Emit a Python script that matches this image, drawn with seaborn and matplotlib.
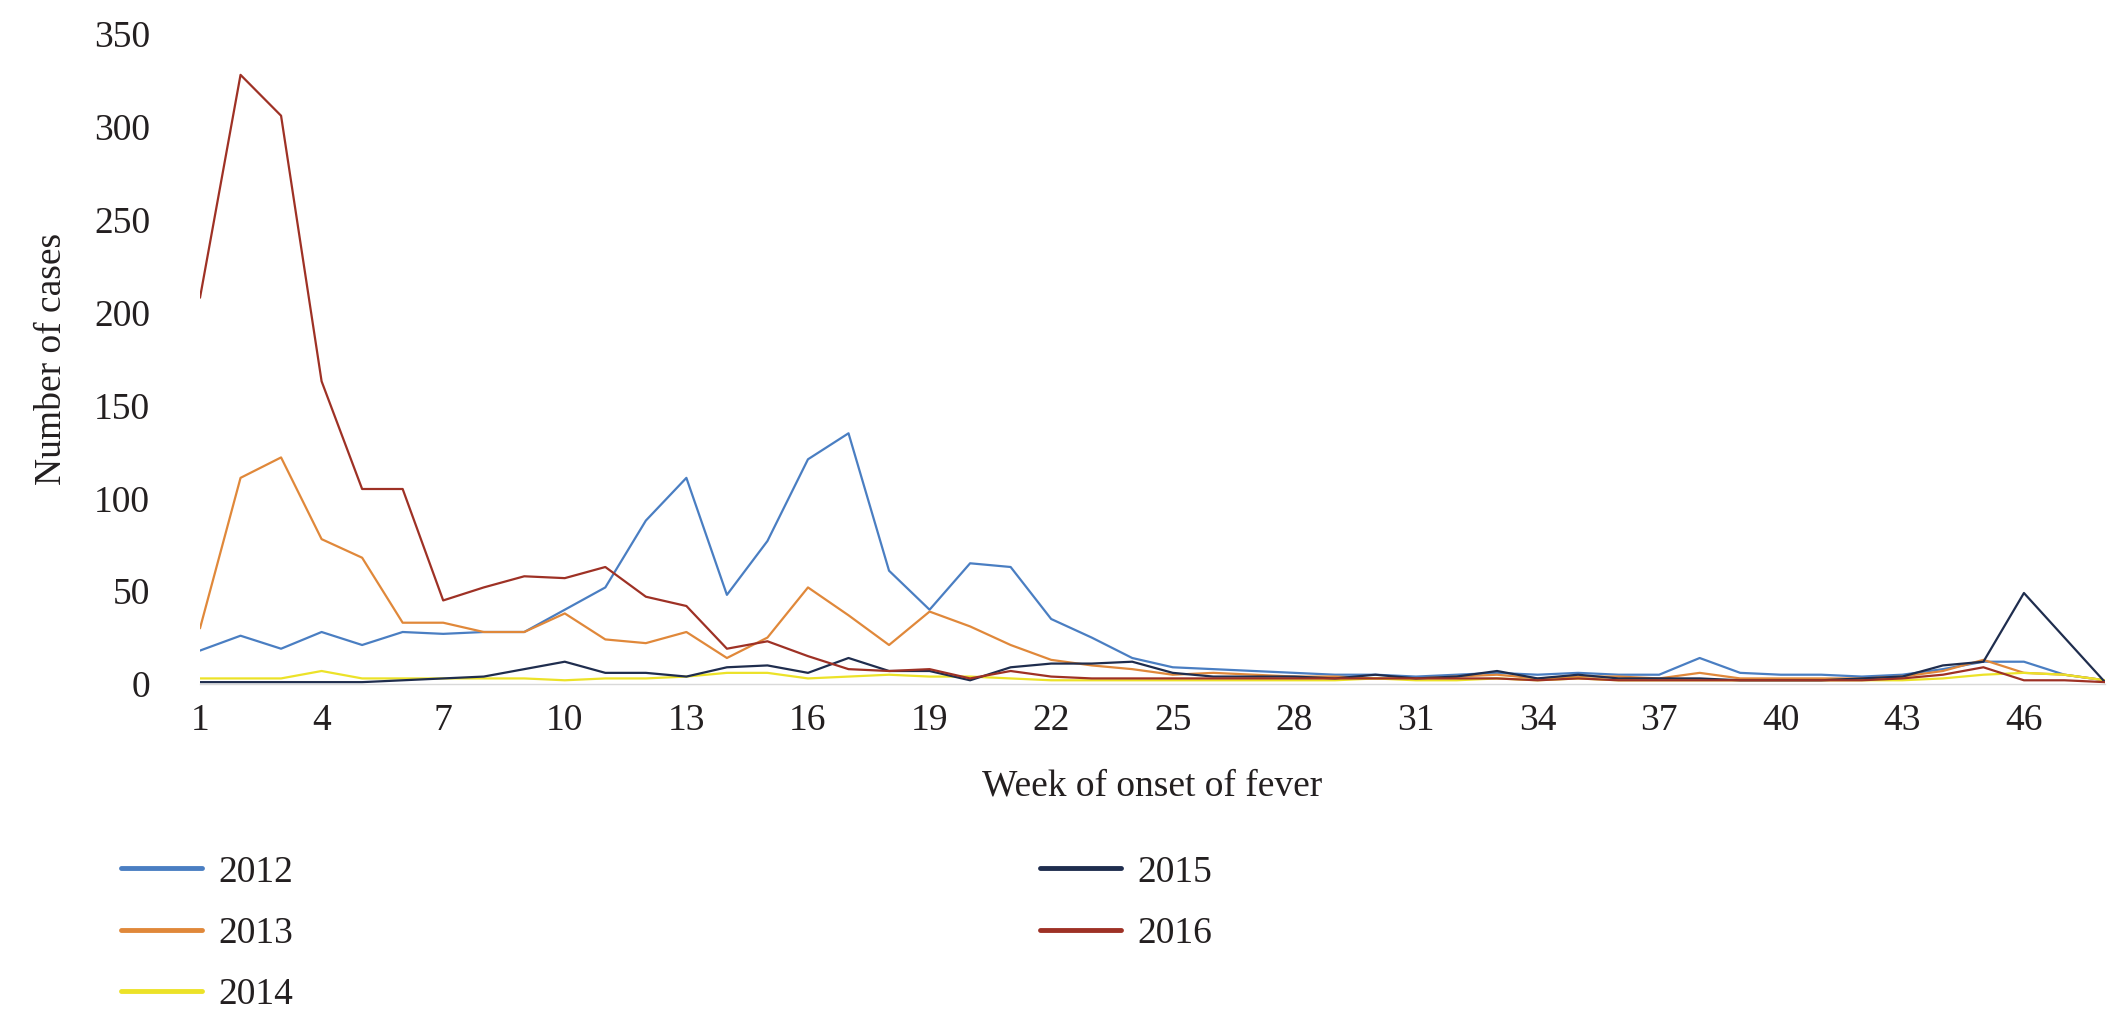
import numpy as np
import pandas as pd
import matplotlib
matplotlib.use("Agg")
import matplotlib.pyplot as plt
from matplotlib.lines import Line2D
import seaborn as sns

weeks = list(range(1, 49))
years = ["2012", "2013", "2014", "2015", "2016"]

cases_2012 = [18, 26, 19, 28, 21, 28, 27, 28, 28, 40, 52, 88, 111, 48, 77, 121, 135, 61, 40, 65,
              63, 35, 25, 14, 9, 8, 7, 6, 5, 5, 4, 5, 6, 5, 6, 5, 5, 14, 6, 5,
              5, 4, 5, 8, 12, 12, 5, 2]
cases_2013 = [30, 111, 122, 78, 68, 33, 33, 28, 28, 38, 24, 22, 28, 14, 25, 52, 37, 21, 39, 31,
              21, 13, 10, 8, 5, 6, 5, 4, 4, 3, 3, 4, 5, 3, 4, 4, 3, 6, 3, 3,
              3, 3, 4, 7, 13, 6, 5, 2]
cases_2014 = [3, 3, 3, 7, 3, 3, 3, 3, 3, 2, 3, 3, 4, 6, 6, 3, 4, 5, 4, 4,
              3, 2, 2, 2, 2, 2, 2, 2, 2, 3, 2, 2, 3, 2, 3, 2, 2, 2, 2, 2,
              2, 2, 2, 3, 5, 6, 5, 2]
cases_2015 = [1, 1, 1, 1, 1, 2, 3, 4, 8, 12, 6, 6, 4, 9, 10, 6, 14, 7, 7, 2,
              9, 11, 11, 12, 6, 4, 4, 4, 3, 5, 3, 4, 7, 3, 5, 3, 3, 3, 2, 2,
              2, 3, 4, 10, 12, 49, 25, 1]
cases_2016 = [208, 328, 306, 163, 105, 105, 45, 52, 58, 57, 63, 47, 42, 19, 23, 15, 8, 7, 8, 3,
              7, 4, 3, 3, 3, 3, 3, 3, 3, 3, 3, 3, 3, 2, 3, 2, 2, 2, 2, 2,
              2, 2, 3, 5, 9, 2, 2, 1]

colors = {"2012": "#4a7ec2", "2013": "#e0883a", "2014": "#ece228",
          "2015": "#1f2d4e", "2016": "#9e3125"}

series = {"2012": cases_2012, "2013": cases_2013, "2014": cases_2014,
          "2015": cases_2015, "2016": cases_2016}
df = pd.concat([pd.DataFrame({"week": weeks, "cases": v, "year": k}) for k, v in series.items()],
               ignore_index=True)

sns.set_style("white")
plt.rcParams["font.family"] = ["Liberation Serif", "DejaVu Serif"]
text_color = "#231f20"
fs = 27

fig = plt.figure(figsize=(21.10, 10.09), dpi=100)
ax = fig.add_axes([200 / 2110, 1 - 684 / 1009, 1905 / 2110, 650 / 1009])

sns.lineplot(data=df, x="week", y="cases", hue="year", hue_order=years, palette=colors,
             linewidth=1.6, ax=ax, legend=False)

ax.set_xlim(1, 48)
ax.set_ylim(0, 350)
ax.set_xticks(list(range(1, 48, 3)))
ax.set_yticks(list(range(0, 351, 50)))
ax.tick_params(axis="both", length=0, labelsize=fs, colors=text_color)
ax.tick_params(axis="x", pad=14)
ax.tick_params(axis="y", pad=36)
for s in ["top", "right", "left"]:
    ax.spines[s].set_visible(False)
ax.spines["bottom"].set_color("#d9d9d9")
ax.spines["bottom"].set_linewidth(1.0)
ax.grid(False)

ax.set_xlabel("Week of onset of fever", fontsize=fs, color=text_color, labelpad=22)
ax.set_ylabel("Number of cases", fontsize=fs, color=text_color, labelpad=18)

handles = {y: Line2D([0], [0], color=colors[y], linewidth=3.5) for y in years}
common = dict(loc="upper left", frameon=False, fontsize=fs, handlelength=2.15,
              handletextpad=0.45, labelspacing=0.72, borderpad=0, borderaxespad=0)
leg1 = fig.legend([handles[y] for y in years[:3]], years[:3],
                  bbox_to_anchor=(121 / 2110, 1 - 855 / 1009), **common)
leg2 = fig.legend([handles[y] for y in years[3:]], years[3:],
                  bbox_to_anchor=(1040 / 2110, 1 - 855 / 1009), **common)
for leg in (leg1, leg2):
    for t in leg.get_texts():
        t.set_color(text_color)

fig.savefig("out.png", dpi=100)
